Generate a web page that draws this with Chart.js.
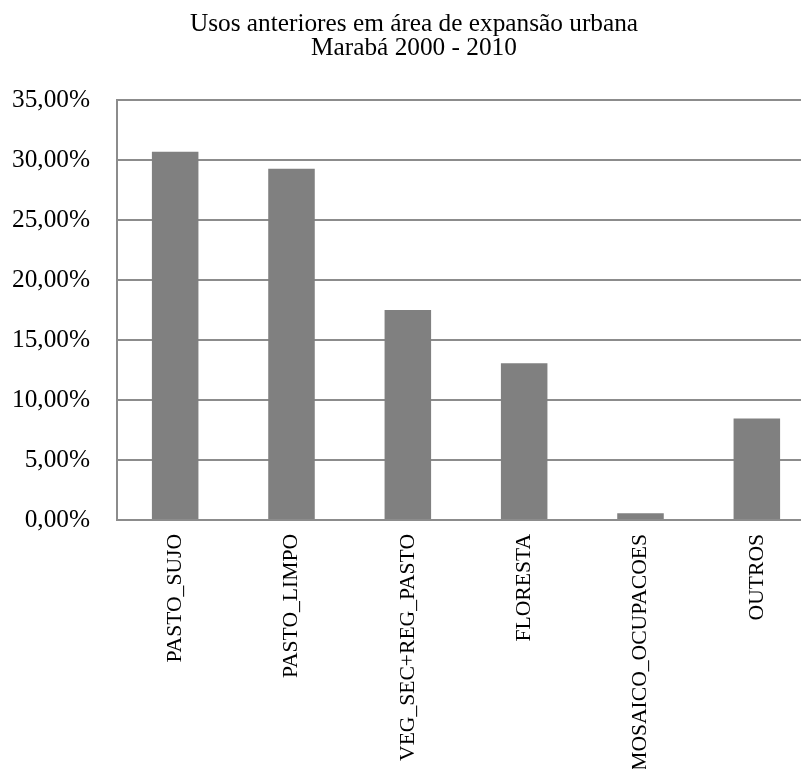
<!DOCTYPE html>
<html>
<head>
<meta charset="utf-8">
<script src="https://cdn.jsdelivr.net/npm/chart.js@4"></script>
<style>
  html, body { margin: 0; padding: 0; background: #fff; overflow: hidden; }
  #wrap { width: 815px; height: 769px; }
</style>
</head>
<body>
<div id="wrap"><canvas id="bars" width="815" height="769"></canvas></div>
<script>
// usos anteriores (% da área de expansão urbana)
const usos = ['PASTO_SUJO', 'PASTO_LIMPO', 'VEG_SEC+REG_PASTO', 'FLORESTA', 'MOSAICO_OCUPACOES', 'OUTROS'];
const percentuais = [30.69, 29.28, 17.50, 13.06, 0.56, 8.47];
const titulo = ['Usos anteriores em área de expansão urbana', 'Marabá 2000 - 2010'];

const serif = '"Liberation Serif", "Times New Roman", serif';

const barConfig = {
  type: 'bar',
  data: {
    labels: usos,
    datasets: [
      {
        label: 'Usos',
        backgroundColor: '#808080',
        borderWidth: 0,
        barPercentage: 0.4,
        categoryPercentage: 1,
        data: percentuais,
      },
    ],
  },
  options: {
    responsive: false,
    animation: false,
    devicePixelRatio: 1,
    layout: {
      padding: { left: 13, right: 0, top: 0, bottom: 0 },
    },
    plugins: {
      legend: { display: false },
      tooltip: { enabled: false },
      title: {
        display: true,
        text: titulo,
        color: '#000',
        font: { family: serif, size: 25.3, weight: 'normal', lineHeight: 0.95 },
        padding: { top: 12, bottom: 40 },
      },
    },
    scales: {
      x: {
        grid: { display: false, drawTicks: false },
        border: { color: '#8c8c8c', width: 2 },
        ticks: {
          color: '#000',
          font: { family: serif, size: 21.6 },
          minRotation: 90,
          maxRotation: 90,
          padding: 14,
          autoSkip: false,
        },
        afterFit: (scale) => { scale.height = 249; },
      },
      y: {
        min: 0,
        max: 35,
        grid: { color: '#8c8c8c', lineWidth: 2, drawTicks: false },
        border: { color: '#8c8c8c', width: 2 },
        ticks: {
          stepSize: 5,
          color: '#000',
          font: { family: serif, size: 25.3 },
          padding: 27,
          callback: (v) => v.toFixed(2).replace('.', ',') + '%',
        },
        afterFit: (scale) => { scale.width = 104; },
      },
    },
  },
};

const barsCtx = document.getElementById('bars');
window.myBar = new Chart(barsCtx, barConfig);
</script>
</body>
</html>
